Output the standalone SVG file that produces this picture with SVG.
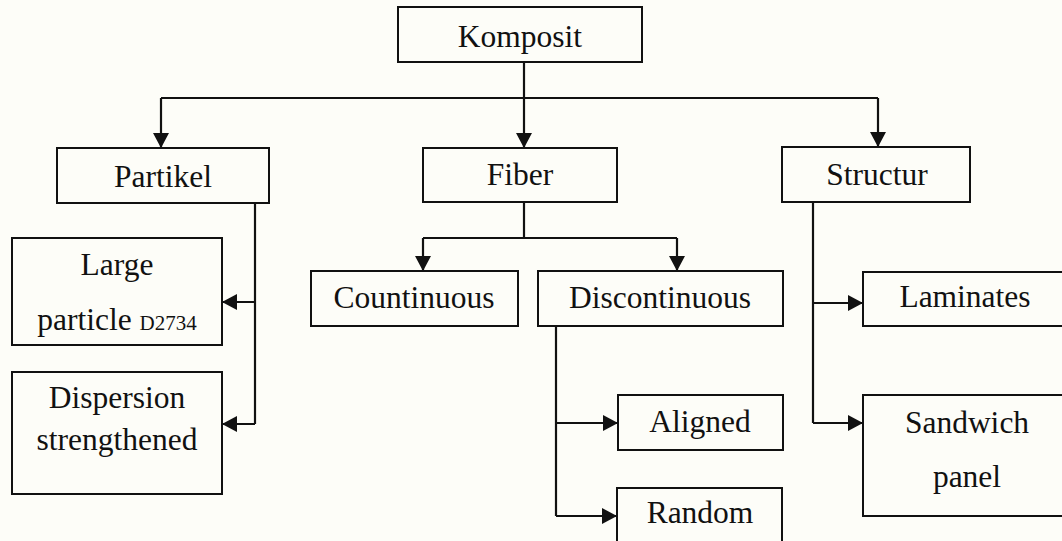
<svg xmlns="http://www.w3.org/2000/svg" width="1062" height="541" viewBox="0 0 1062 541">
<style>
.box{fill:none;stroke:#111;stroke-width:2}
.t{font-family:"Liberation Serif","Times New Roman",serif;font-size:31.5px;fill:#111;text-anchor:middle}
.s{font-size:21px}
.c{fill:none;stroke:#111;stroke-width:2.2}
.a{marker-end:url(#arr)}
</style>
<defs>
<marker id="arr" markerUnits="userSpaceOnUse" markerWidth="17" markerHeight="17" refX="15" refY="8" orient="auto">
<path d="M0,0 L15,8 L0,16 z" fill="#111"/>
</marker>
</defs>
<rect x="0" y="0" width="1062" height="541" fill="#fdfdf8"/>
<g id="connectors">
<path class="c a" d="M524 62 V148"/>
<path class="c" d="M161 98 H878"/>
<path class="c a" d="M161 98 V148"/>
<path class="c a" d="M878 98 V147"/>
<path class="c" d="M255 203 V424"/>
<path class="c a" d="M255 302 H222"/>
<path class="c a" d="M255 424 H222"/>
<path class="c" d="M524 202 V238"/>
<path class="c" d="M423 238 H677"/>
<path class="c a" d="M423 238 V271"/>
<path class="c a" d="M677 238 V271"/>
<path class="c" d="M556 326 V516"/>
<path class="c a" d="M556 423 H618"/>
<path class="c a" d="M556 516 H617"/>
<path class="c" d="M813 202 V423"/>
<path class="c a" d="M813 303 H863"/>
<path class="c a" d="M813 423 H863"/>
</g>
<g id="komposit"><rect class="box" x="398" y="7" width="244" height="55"/><text class="t" x="520" y="47">Komposit</text></g>
<g id="partikel"><rect class="box" x="57" y="148" width="212" height="55"/><text class="t" x="163" y="187">Partikel</text></g>
<g id="fiber"><rect class="box" x="423" y="148" width="194" height="54"/><text class="t" x="520" y="185">Fiber</text></g>
<g id="structur"><rect class="box" x="782" y="147" width="188" height="55"/><text class="t" x="877" y="185">Structur</text></g>
<g id="large-particle"><rect class="box" x="12" y="238" width="210" height="107"/><text class="t" x="117" y="275">Large</text><text class="t" x="117" y="330">particle <tspan class="s">D2734</tspan></text></g>
<g id="dispersion"><rect class="box" x="12" y="372" width="210" height="122"/><text class="t" x="117" y="408">Dispersion</text><text class="t" x="117" y="450">strengthened</text></g>
<g id="countinuous"><rect class="box" x="311" y="271" width="207" height="55"/><text class="t" x="414" y="308">Countinuous</text></g>
<g id="discontinuous"><rect class="box" x="538" y="271" width="245" height="55"/><text class="t" x="660" y="308">Discontinuous</text></g>
<g id="aligned"><rect class="box" x="618" y="395" width="165" height="55"/><text class="t" x="700" y="432">Aligned</text></g>
<g id="random"><rect class="box" x="617" y="488" width="165" height="70"/><text class="t" x="700" y="523">Random</text></g>
<g id="laminates"><rect class="box" x="863" y="272" width="210" height="54"/><text class="t" x="965" y="307">Laminates</text></g>
<g id="sandwich"><rect class="box" x="863" y="395" width="210" height="121"/><text class="t" x="967" y="433">Sandwich</text><text class="t" x="967" y="487">panel</text></g>
</svg>
